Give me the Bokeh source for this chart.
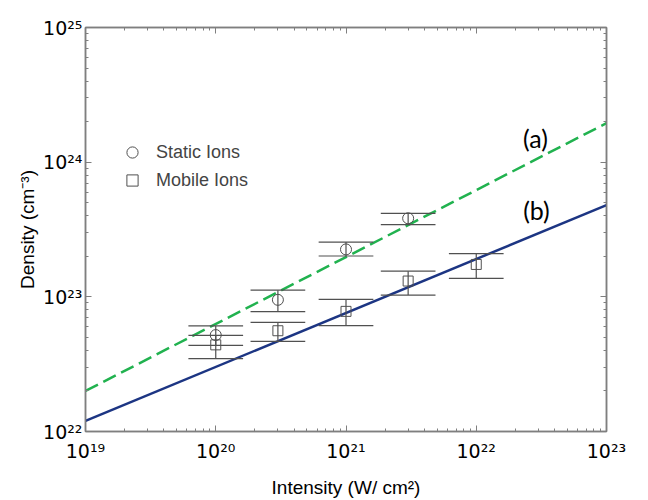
from bokeh.plotting import figure
from bokeh.models import Range1d, LogAxis, FixedTicker, Legend, LegendItem, ColumnDataSource
from bokeh.core.properties import value
from bokeh.embed import file_html
from bokeh.resources import INLINE

# ---- data ----
intensity_static = [1e20, 3e20, 1e21, 3e21]
density_static = [5.2e22, 9.5e22, 2.25e23, 3.83e23]
static_low = [4.36e22, 7.76e22, 2.01e23, 3.44e23]
static_high = [6.08e22, 1.12e23, 2.55e23, 4.17e23]

intensity_mobile = [1e20, 3e20, 1e21, 3e21, 1e22]
density_mobile = [4.4e22, 5.6e22, 7.8e22, 1.31e23, 1.74e23]
mobile_low = [3.48e22, 4.67e22, 6.12e22, 1.03e23, 1.37e23]
mobile_high = [5.17e22, 6.47e22, 9.57e22, 1.55e23, 2.09e23]

fit_x = [1e19, 1e23]
fit_a = [2.0e22, 1.95e24]
fit_b = [1.2e22, 4.8e23]

x_ticks = [1e19, 1e20, 1e21, 1e22, 1e23]
x_tick_labels = ["10¹⁹", "10²⁰", "10²¹", "10²²", "10²³"]
y_ticks = [1e22, 1e23, 1e24, 1e25]
y_tick_labels = ["10²²", "10²³", "10²⁴", "10²⁵"]

curve_labels = ["(a)", "(b)"]
curve_label_x = [2.85e22, 2.9e22]
curve_label_y = [1.52e24, 4.4e23]

legend_labels = ["Static Ions", "Mobile Ions"]

cap_factor = 10 ** 0.21
FONT = "Liberation Sans"
TICK_FONT = "DejaVu Sans"
GRAY = "#7f7f7f"
EB = "#505050"

x_minor = [k * d for d in x_ticks[:-1] for k in range(2, 10)]
y_minor = [k * d for d in y_ticks[:-1] for k in range(2, 10)]

p = figure(width=648, height=500, x_axis_type="log", y_axis_type="log",
           x_range=Range1d(1e19, 1e23), y_range=Range1d(1e22, 1e25),
           output_backend="svg", toolbar_location=None,
           min_border_left=85, min_border_right=42, min_border_top=27, min_border_bottom=66)
p.xgrid.visible = False
p.ygrid.visible = False
p.outline_line_color = GRAY
p.outline_line_width = 1.5
p.background_fill_color = "white"
p.border_fill_color = "white"

def style_axis(ax, labels=True):
    ax.axis_line_color = GRAY
    ax.axis_line_width = 1.5
    ax.major_tick_line_color = GRAY
    ax.minor_tick_line_color = GRAY
    ax.major_tick_in = 6
    ax.major_tick_out = 0
    ax.minor_tick_in = 3
    ax.minor_tick_out = 0
    if labels:
        ax.major_label_text_font = TICK_FONT
        ax.major_label_text_font_size = "19px"
        ax.major_label_text_color = "black"
        ax.axis_label_text_font = FONT
        ax.axis_label_text_font_size = "19px"
        ax.axis_label_text_font_style = "normal"
        ax.axis_label_text_color = "black"
    else:
        ax.major_label_text_font_size = "1px"
        ax.major_label_text_alpha = 0
        ax.major_label_standoff = 0

xa = p.xaxis[0]
ya = p.yaxis[0]
xa.ticker = FixedTicker(ticks=x_ticks, minor_ticks=x_minor)
ya.ticker = FixedTicker(ticks=y_ticks, minor_ticks=y_minor)
style_axis(xa)
style_axis(ya)
xa.major_label_overrides = {t: l for t, l in zip(x_ticks, x_tick_labels)}
ya.major_label_overrides = {t: l for t, l in zip(y_ticks, y_tick_labels)}
xa.major_label_standoff = 8
ya.major_label_standoff = 3
xa.axis_label = "Intensity (W/ cm²)"
ya.axis_label = "Density (cm⁻³)"
xa.axis_label_standoff = 12
ya.axis_label_standoff = 2

top = LogAxis(ticker=FixedTicker(ticks=x_ticks, minor_ticks=x_minor))
right = LogAxis(ticker=FixedTicker(ticks=y_ticks, minor_ticks=y_minor))
style_axis(top, labels=False)
style_axis(right, labels=False)
p.add_layout(top, "above")
p.add_layout(right, "right")

# fit lines
p.line(fit_x, fit_a, line_color="#21b24f", line_width=2.5, line_dash="14 6")
p.line(fit_x, fit_b, line_color="#1c3583", line_width=2.5)

# error bars
def errorbars(xs, lo, hi):
    p.segment(x0=xs, y0=lo, x1=xs, y1=hi, line_color=EB, line_width=1.2)
    left = [x / cap_factor for x in xs]
    right_ = [x * cap_factor for x in xs]
    p.segment(x0=left, y0=lo, x1=right_, y1=lo, line_color=EB, line_width=1.2)
    p.segment(x0=left, y0=hi, x1=right_, y1=hi, line_color=EB, line_width=1.2)

errorbars(intensity_static, static_low, static_high)
errorbars(intensity_mobile, mobile_low, mobile_high)

r_static = p.scatter(intensity_static, density_static, marker="circle", size=11,
                     line_color=EB, fill_color=None, line_width=1)
r_mobile = p.scatter(intensity_mobile, density_mobile, marker="square", size=10,
                     line_color=EB, fill_color=None, line_width=1)

legend = Legend(items=[LegendItem(label=legend_labels[0], renderers=[r_static]),
                       LegendItem(label=legend_labels[1], renderers=[r_mobile])],
                location=(33, 237), glyph_width=28, glyph_height=28, label_height=28,
                label_standoff=10, spacing=0, padding=0, margin=0,
                border_line_color=None, background_fill_alpha=0,
                label_text_font=FONT, label_text_font_size="18px")
p.add_layout(legend)

src = ColumnDataSource(dict(x=curve_label_x, y=curve_label_y, t=curve_labels))
p.text(x="x", y="y", text="t", source=src, text_font=value("Lato"),
       text_font_size="25px", text_align="center", text_baseline="middle", text_color="black")

open("out.html", "w").write(file_html(p, INLINE))
